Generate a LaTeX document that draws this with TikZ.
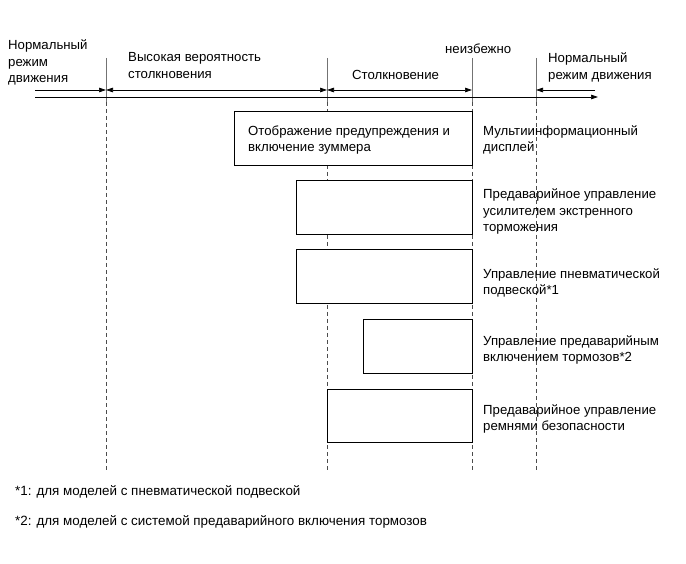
\documentclass[tikz,border=0pt]{standalone}
\usepackage{fontspec}
\setmainfont{Liberation Sans}
\usetikzlibrary{arrows.meta}
\begin{document}
\begin{tikzpicture}[x=1pt,y=-1pt,
  lbl/.style={anchor=base west,inner sep=0pt,align=left,font=\fontsize{13.2}{16.5}\selectfont},
  foot/.style={anchor=base west,inner sep=0pt,font=\fontsize{13.4}{16}\selectfont},
  bar/.style={draw=black,line width=1pt,fill=white},
  vsolid/.style={draw=black!55,line width=0.9pt},
  vdash/.style={draw=black!70,line width=0.7pt,dash pattern=on 4pt off 3pt},
  arr/.style={line width=0.7pt,-{Triangle[length=7pt,width=4.5pt]}},
  darr/.style={line width=0.7pt,{Triangle[length=7pt,width=4.5pt]}-{Triangle[length=7pt,width=4.5pt]}}]
\useasboundingbox (0,0) rectangle (686,564);
% vertical markers
\foreach \n/\x in {a/106,b/327,c/472,d/536}{
  \coordinate (\n0) at (\x,58);
  \coordinate (\n1) at (\x,102);
  \coordinate (\n2) at (\x,470);
  \draw[vsolid] (\n0) -- (\n1);
  \draw[vdash] (\n1) -- (\n2);
}
% arrows
\coordinate (s0) at (35,90);
\coordinate (sa) at (106,90);
\coordinate (sb) at (327,90);
\coordinate (sc) at (472,90);
\coordinate (sd) at (536,90);
\coordinate (se) at (595,90);
\coordinate (ax0) at (35,97);
\coordinate (ax1) at (598,97);
\draw[arr] (s0) -- (sa);
\draw[darr] (sa) -- (sb);
\draw[darr] (sb) -- (sc);
\draw[arr] (se) -- (sd);
\draw[arr] (ax0) -- (ax1);
% header texts (base = baseline of last line)
\node[lbl] (t1) at (8,83) {Нормальный\\режим\\движения};
\node[lbl] (t2) at (128,78.5) {Высокая вероятность\\столкновения};
\node[lbl] (t3) at (352,80) {Столкновение};
\node[lbl] (t4) at (445,54) {неизбежно};
\node[lbl] (t5) at (548,79.5) {Нормальный\\режим движения};
% boxes
\draw[bar] (234,112) rectangle (472,166);
\node[lbl] (b1) at (248,152) {Отображение предупреждения и\\включение зуммера};
\draw[bar] (296,181) rectangle (472,235);
\draw[bar] (296,250) rectangle (472,304);
\draw[bar] (363,320) rectangle (472,373);
\draw[bar] (327,389) rectangle (472,442);
% labels
\node[lbl] (l1) at (483,152) {Мультиинформационный\\дисплей};
\node[lbl] (l2) at (483,232) {Предаварийное управление\\усилителем экстренного\\торможения};
\node[lbl] (l3) at (483,294.5) {Управление пневматической\\подвеской*1};
\node[lbl] (l4) at (483,361.5) {Управление предаварийным\\включением тормозов*2};
\node[lbl] (l5) at (483,430.5) {Предаварийное управление\\ремнями безопасности};
% footnotes
\node[foot] (f1) at (15,495) {*1: для моделей с пневматической подвеской};
\node[foot] (f2) at (15,525) {*2: для моделей с системой предаварийного включения тормозов};
\end{tikzpicture}
\end{document}
